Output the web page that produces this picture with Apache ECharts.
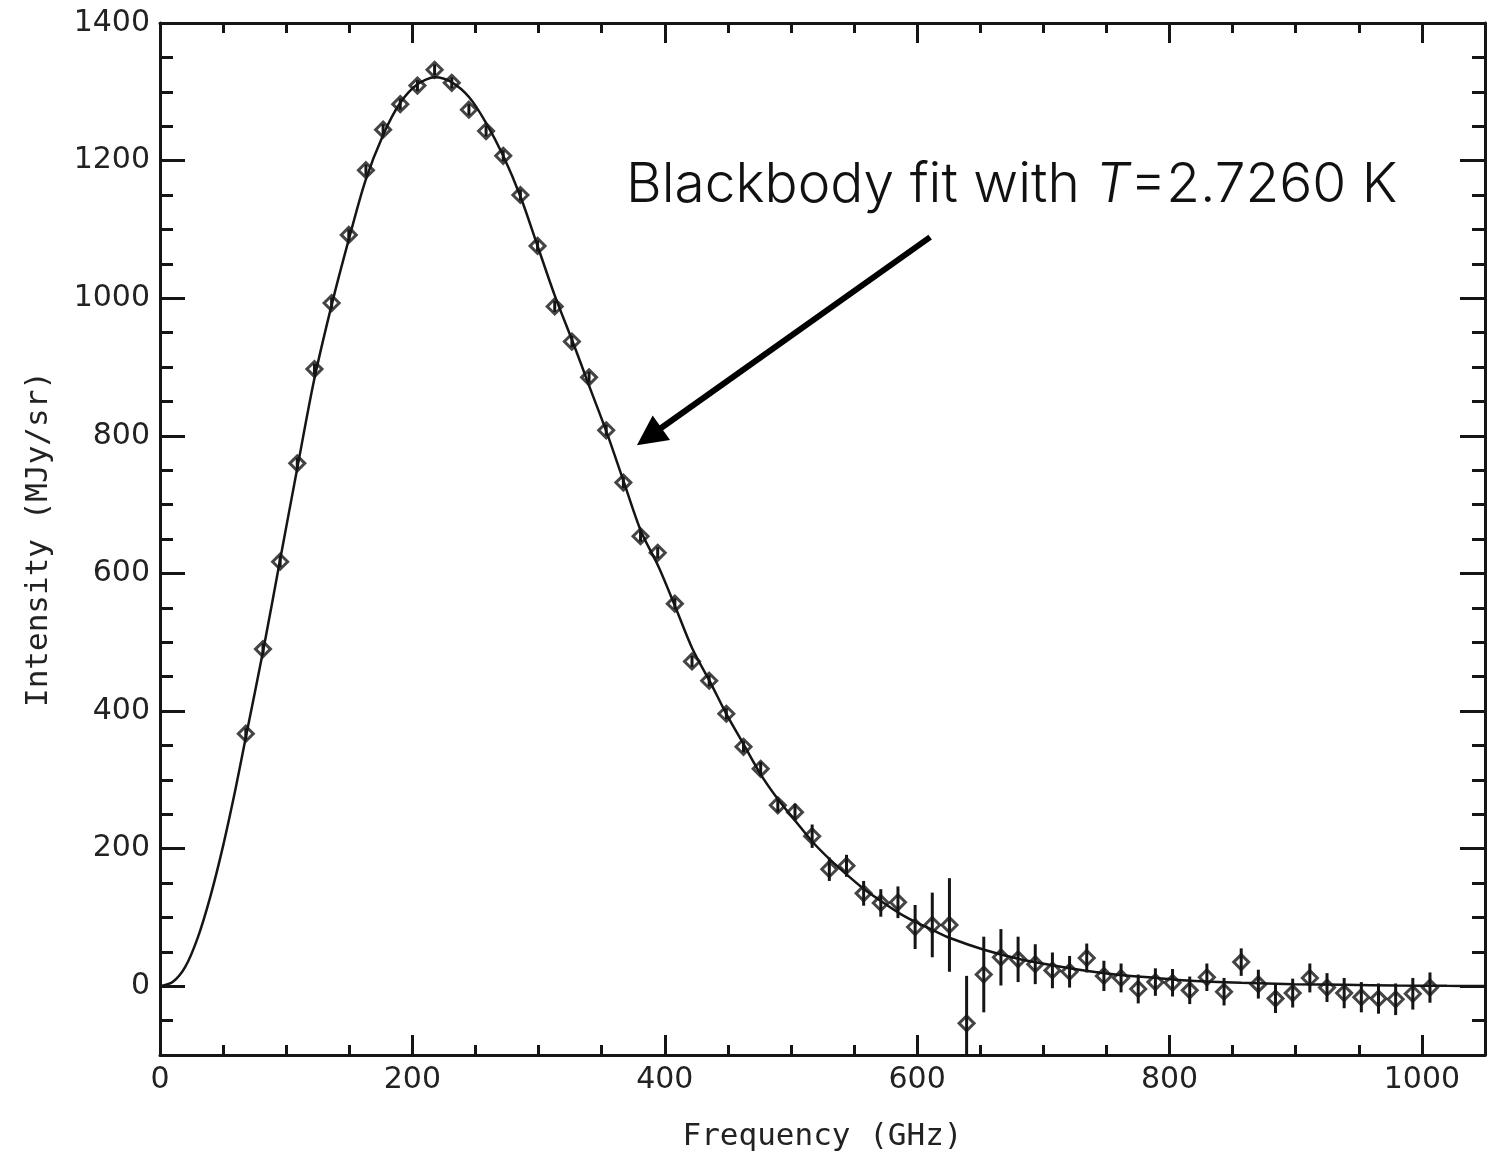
<!DOCTYPE html>
<html>
<head>
<meta charset="utf-8">
<script src="https://cdn.jsdelivr.net/npm/echarts@6/dist/echarts.min.js"></script>
<style>
html,body{margin:0;padding:0;background:#fff;}
#chart{width:1501px;height:1160px;}
</style>
</head>
<body>
<div id="chart"></div>
<script>
// Measured spectrum points (frequency in GHz, intensity in MJy/sr, 1-sigma error)
const frequency = [68.0, 81.6, 95.2, 108.8, 122.4, 136.0, 149.6, 163.2, 176.8, 190.4,
  204.0, 217.6, 231.2, 244.8, 258.4, 272.0, 285.6, 299.2, 312.8, 326.4,
  340.0, 353.6, 367.2, 380.8, 394.4, 408.0, 421.6, 435.2, 448.8, 462.4,
  476.0, 489.6, 503.2, 516.8, 530.4, 544.0, 557.6, 571.2, 584.8, 598.4,
  612.0, 625.6, 639.2, 652.8, 666.4, 680.0, 693.6, 707.2, 720.8, 734.4,
  748.0, 761.6, 775.2, 788.8, 802.4, 816.0, 829.6, 843.2, 856.8, 870.4,
  884.0, 897.6, 911.2, 924.8, 938.4, 952.0, 965.6, 979.2, 992.8, 1006.4];
const intensity = [367, 490, 617, 760, 897, 993, 1092, 1186, 1245, 1282,
  1309, 1332, 1313, 1274, 1243, 1207, 1150, 1076, 988, 937,
  885, 808, 732, 654, 630, 556, 472, 444, 396, 348,
  316, 263, 253, 218, 170, 175, 135, 121, 122, 86,
  89, 89, -54, 17, 42, 39, 32, 23, 21, 41,
  15, 12, -4, 6, 5, -6, 13, -8, 35, 3,
  -18, -10, 12, -2, -10, -16, -18, -19, -11, -2];
const errorBar = [8, 8, 8, 8, 8, 8, 8, 8, 8, 8,
  8, 8, 8, 8, 8, 8, 8, 8, 8, 8,
  8, 8, 8, 8, 8, 8, 8, 8, 8, 8,
  10, 10, 12, 17, 17, 16, 18, 20, 23, 32,
  47, 68, 69, 55, 41, 33, 29, 26, 23, 21,
  22, 21, 21, 20, 20, 20, 20, 20, 20, 21,
  21, 21, 21, 21, 22, 22, 22, 23, 23, 22];

// Blackbody fit curve
const fitFrequency = [0, 10, 20, 30, 40, 50, 60, 68, 82, 95, 109, 122, 136, 150, 163, 177, 190, 204, 218,
  231, 245, 258, 272, 286, 299, 313, 327, 340, 354, 367, 381, 395, 408, 422, 436, 449, 463, 476,
  490, 504, 517, 531, 545, 558, 572, 585, 599, 613, 626, 653, 680, 708, 735, 762, 790, 817, 857,
  898, 939, 980, 1020, 1050];
const fitIntensity = [0, 6, 28, 71, 131, 204, 288, 362, 490, 618, 755, 880, 990, 1088, 1172, 1238, 1283, 1311, 1321,
  1314, 1292, 1256, 1207, 1146, 1077, 1003, 937, 873, 805, 736, 662, 610, 553, 490, 442, 395, 350, 308,
  271, 239, 210, 184, 161, 141, 123, 107, 93, 81, 70, 53, 40, 30, 22, 16, 12, 8, 5,
  3, 2, 1, 0.5, 0.3];

const xMajorTicks = [0, 200, 400, 600, 800, 1000];
const yMajorTicks = [0, 200, 400, 600, 800, 1000, 1200, 1400];
const xRange = [0, 1050];
const yRange = [-100, 1400];

const INK = '#151515';
const labelFont = {fontFamily: 'DejaVu Sans', fontSize: 30, color: '#222', formatter: v => String(v)};

function xAx(pos, major, withLabel, withName) {
  return {
    type: 'value', position: pos, min: xRange[0], max: xRange[1],
    interval: major ? undefined : 50,
    axisLine: {show: major, onZero: false, lineStyle: {color: INK, width: 3}},
    axisTick: major ? {show: true, inside: true, length: 20, customValues: xMajorTicks, lineStyle: {color: INK, width: 3}}
                    : {show: true, inside: true, length: 10, lineStyle: {color: INK, width: 3}},
    axisLabel: withLabel ? Object.assign({show: true, margin: 10, customValues: xMajorTicks}, labelFont) : {show: false},
    splitLine: {show: false},
    name: withName ? 'Frequency (GHz)' : '',
    nameLocation: 'middle', nameGap: 66,
    nameTextStyle: {fontFamily: 'DejaVu Sans Mono', fontSize: 31, color: '#222'}
  };
}
function yAx(pos, major, withLabel, withName) {
  return {
    type: 'value', position: pos, min: yRange[0], max: yRange[1],
    interval: major ? undefined : 50,
    axisLine: {show: major, onZero: false, lineStyle: {color: INK, width: 3}},
    axisTick: major ? {show: true, inside: true, length: 25, customValues: yMajorTicks, lineStyle: {color: INK, width: 3}}
                    : {show: true, inside: true, length: 13, lineStyle: {color: INK, width: 3}},
    axisLabel: withLabel ? Object.assign({show: true, margin: 10, customValues: yMajorTicks}, labelFont) : {show: false},
    splitLine: {show: false},
    name: withName ? 'Intensity (MJy/sr)' : '',
    nameLocation: 'middle', nameGap: 106, nameRotate: 90,
    nameTextStyle: {fontFamily: 'DejaVu Sans Mono', fontSize: 31, color: '#222'}
  };
}

const chart = echarts.init(document.getElementById('chart'), null, {renderer: 'canvas'});
chart.setOption({
  backgroundColor: '#fff',
  animation: false,
  grid: {left: 160, right: 16, top: 23, bottom: 105, containLabel: false},
  xAxis: [xAx('bottom', true, true, true), xAx('bottom', false, false, false),
          xAx('top', true, false, false), xAx('top', false, false, false)],
  yAxis: [yAx('left', true, true, true), yAx('left', false, false, false),
          yAx('right', true, false, false), yAx('right', false, false, false)],
  series: [
    {
      type: 'line', name: 'fit', xAxisIndex: 0, yAxisIndex: 0,
      data: fitFrequency.map((f, i) => [f, fitIntensity[i]]),
      smooth: 0.3, showSymbol: false, symbol: 'none', clip: true,
      lineStyle: {color: INK, width: 2.5}, z: 3,
      markLine: {
        silent: true, symbol: ['none', 'triangle'], symbolSize: 30,
        lineStyle: {color: '#000', width: 6, type: 'solid'},
        itemStyle: {color: '#000'},
        label: {show: false},
        data: [[{coord: [610.3, 1088.8]}, {coord: [387.6, 799]}]]
      }
    },
    {
      type: 'custom', name: 'errors', xAxisIndex: 0, yAxisIndex: 0, clip: true, z: 4,
      data: frequency.map((f, i) => [f, intensity[i], errorBar[i]]),
      encode: {x: 0, y: 1},
      renderItem: function (params, api) {
        const x = api.value(0), y = api.value(1), e = api.value(2);
        const p1 = api.coord([x, y - e]);
        const p2 = api.coord([x, y + e]);
        return {type: 'line', shape: {x1: p1[0], y1: p1[1], x2: p2[0], y2: p2[1]},
                style: {stroke: INK, lineWidth: 3}};
      }
    },
    {
      type: 'scatter', name: 'data', xAxisIndex: 0, yAxisIndex: 0, z: 5,
      data: frequency.map((f, i) => [f, intensity[i]]),
      symbol: 'diamond', symbolSize: 15,
      itemStyle: {color: 'rgba(0,0,0,0)', borderColor: INK, borderWidth: 3}
    }
  ],
  graphic: [{
    type: 'text', x: 626, y: 185, silent: true,
    style: {
      text: 'Blackbody fit with {i|T}=2.7260 K',
      fontFamily: 'Inter', fontWeight: 300, fontSize: 55, fill: '#111',
      verticalAlign: 'middle', align: 'left',
      rich: {i: {fontFamily: 'Inter', fontWeight: 300, fontStyle: 'italic', fontSize: 55, fill: '#111'}}
    }
  }]
});
</script>
</body>
</html>
